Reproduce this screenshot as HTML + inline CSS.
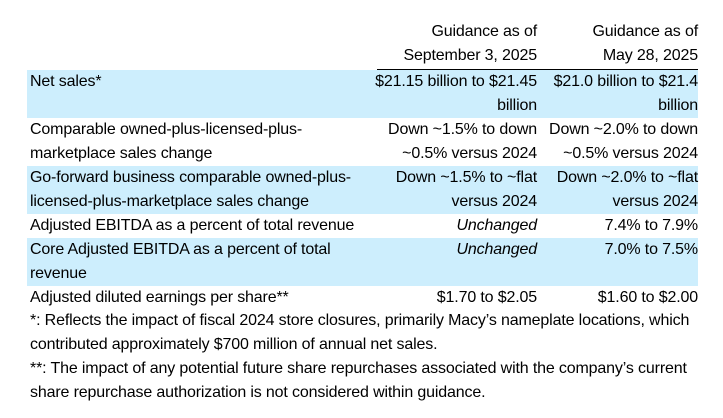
<!DOCTYPE html>
<html><head><meta charset="utf-8"><style>
html,body{margin:0;padding:0;background:#fff;width:723px;height:418px;overflow:hidden}
body{font-family:"Liberation Sans",Arial,sans-serif;font-size:16px;letter-spacing:-0.15px;color:#000;position:relative}
.row{position:absolute;left:27px;width:671px}
.blue{background:#cdeefd}
.c0{position:absolute;left:3px;width:345px;top:0;line-height:24px;white-space:nowrap}
.c1{position:absolute;left:340px;width:170px;top:0;text-align:right;line-height:24px;white-space:nowrap}
.c2{position:absolute;left:512px;width:159px;top:0;text-align:right;line-height:24px;white-space:nowrap}
.hdr{position:absolute;left:377px;top:19px;width:321px;height:50px;border-bottom:1px solid #000}
.fn{position:absolute;left:30px;width:690px;line-height:24px;white-space:nowrap}
i{font-style:italic}
</style></head><body>
<div class="row" style="top:20px;height:50px">
 <div class="c1">Guidance as of<br>September 3, 2025</div>
 <div class="c2">Guidance as of<br>May 28, 2025</div>
</div>
<div class="hdr"></div>
<div class="row blue" style="top:70px;height:48px">
 <div class="c0">Net sales*</div>
 <div class="c1">$21.15 billion to $21.45<br>billion</div>
 <div class="c2">$21.0 billion to $21.4<br>billion</div>
</div>
<div class="row" style="top:118px;height:48px">
 <div class="c0">Comparable owned-plus-licensed-plus-<br>marketplace sales change</div>
 <div class="c1">Down ~1.5% to down<br>~0.5% versus 2024</div>
 <div class="c2">Down ~2.0% to down<br>~0.5% versus 2024</div>
</div>
<div class="row blue" style="top:166px;height:48px">
 <div class="c0">Go-forward business comparable owned-plus-<br>licensed-plus-marketplace sales change</div>
 <div class="c1">Down ~1.5% to ~flat<br>versus 2024</div>
 <div class="c2">Down ~2.0% to ~flat<br>versus 2024</div>
</div>
<div class="row" style="top:214px;height:24px">
 <div class="c0">Adjusted EBITDA as a percent of total revenue</div>
 <div class="c1"><i>Unchanged</i></div>
 <div class="c2">7.4% to 7.9%</div>
</div>
<div class="row blue" style="top:238px;height:48px">
 <div class="c0">Core Adjusted EBITDA as a percent of total<br>revenue</div>
 <div class="c1"><i>Unchanged</i></div>
 <div class="c2">7.0% to 7.5%</div>
</div>
<div class="row" style="top:286px;height:24px">
 <div class="c0">Adjusted diluted earnings per share**</div>
 <div class="c1">$1.70 to $2.05</div>
 <div class="c2">$1.60 to $2.00</div>
</div>
<div class="fn" style="top:309px">*: Reflects the impact of fiscal 2024 store closures, primarily Macy’s nameplate locations, which<br>contributed approximately $700 million of annual net sales.</div>
<div class="fn" style="top:357px">**: The impact of any potential future share repurchases associated with the company’s current<br>share repurchase authorization is not considered within guidance.</div>
</body></html>
